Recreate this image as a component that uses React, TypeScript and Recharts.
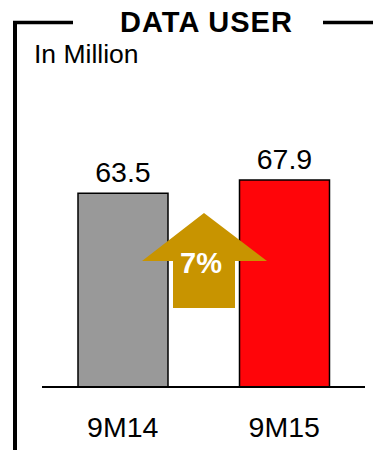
import { BarChart, Bar, XAxis, YAxis, LabelList, Cell } from "recharts";

const periods = ["9M14", "9M15"];
const users = [63.5, 67.9];
const barColors = ["#999999", "#FF0509"];
const growthLabel = "7%";

const data = periods.map((p, i) => ({ period: p, users: users[i] }));

const font = "'Liberation Sans', Arial, Helvetica, sans-serif";

export default function App() {
  return (
    <div style={{ position: "relative", width: 373, height: 450, fontFamily: font }}>
      <style>{"body{margin:0}"}</style>
      <BarChart
        width={373}
        height={450}
        data={data}
        margin={{ top: 143, right: 8, left: 42, bottom: 0 }}
        barSize={90}
      >
        <XAxis
          dataKey="period"
          height={63}
          axisLine={{ stroke: "#000", strokeWidth: 2 }}
          tickLine={false}
          tickSize={0}
          tickMargin={30}
          tick={{ fill: "#000", fontSize: 28.5, fontFamily: font }}
        />
        <YAxis hide domain={[0, 80]} />
        <Bar dataKey="users" stroke="#000" strokeWidth={1.5} isAnimationActive={false}>
          {data.map((d, i) => (
            <Cell key={d.period} fill={barColors[i]} />
          ))}
          <LabelList
            dataKey="users"
            position="top"
            offset={11}
            fill="#000"
            fontSize={28.5}
            fontFamily={font}
            formatter={(v: number) => v.toFixed(1)}
          />
        </Bar>
      </BarChart>
      <svg
        width={373}
        height={450}
        style={{ position: "absolute", left: 0, top: 0, pointerEvents: "none" }}
      >
        {/* frame */}
        <line x1={15} y1={22.5} x2={15} y2={450} stroke="#000" strokeWidth={4} />
        <line x1={13} y1={22.5} x2={73} y2={22.5} stroke="#000" strokeWidth={3.5} />
        <line x1={323} y1={22.5} x2={373} y2={22.5} stroke="#000" strokeWidth={3.5} />
        <text
          x={206.5}
          y={32}
          textAnchor="middle"
          fontSize={29}
          fontWeight="bold"
          letterSpacing={1}
          fontFamily={font}
          fill="#000"
        >
          DATA USER
        </text>
        <text x={34} y={63} fontSize={26.5} fontFamily={font} fill="#000">
          In Million
        </text>
        {/* growth arrow */}
        <polygon
          points="204,213 267,261 235,261 235,308 173,308 173,261 142,261"
          fill="#C89400"
        />
        <text x={201} y={273} textAnchor="middle" fontSize={29} fontWeight="bold" fontFamily={font} fill="#fff">
          {growthLabel}
        </text>
      </svg>
    </div>
  );
}
